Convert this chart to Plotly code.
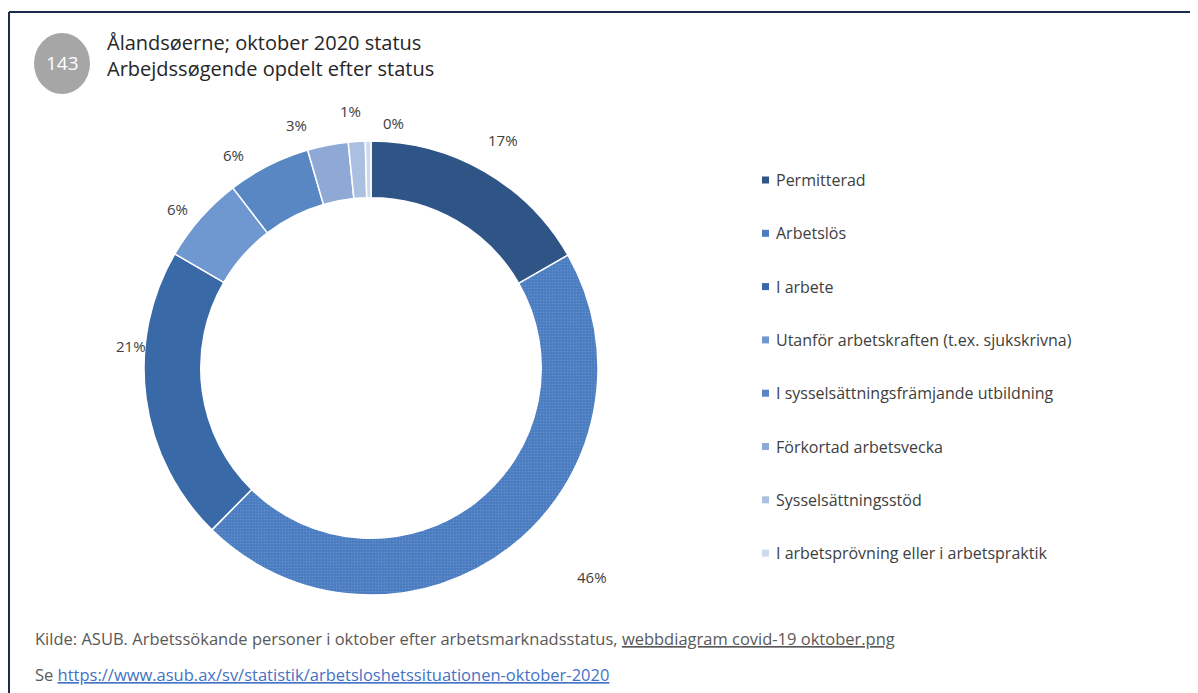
import math
import plotly.graph_objects as go

# ---- data ----
categories = [
    "Permitterad",
    "Arbetslös",
    "I arbete",
    "Utanför arbetskraften (t.ex. sjukskrivna)",
    "I sysselsättningsfrämjande utbildning",
    "Förkortad arbetsvecka",
    "Sysselsättningsstöd",
    "I arbetsprövning eller i arbetspraktik",
]
shares = [16.7, 45.6, 21.0, 6.2, 5.9, 2.9, 1.2, 0.4]
colors = ["#2f5587", "#4a7cc1", "#3a69a7", "#6e98cf", "#5987c4", "#8ea9d6", "#abbfe1", "#cdd9ed"]
patterns = ["", ".", "", "", "", "", "", ""]

title_lines = ["Ålandsøerne; oktober 2020 status", "Arbejdssøgende opdelt efter status"]
badge = "143"
source_line = ("Kilde: ASUB. Arbetssökande personer i oktober efter arbetsmarknadsstatus, "
               "<span style='text-decoration:underline'>webbdiagram covid-19 oktober.png</span>")
url = "https://www.asub.ax/sv/statistik/arbetsloshetssituationen-oktober-2020"

# ---- layout / style (not data) ----
# the page body has an 8px margin; the figure is sized to fill the rest of the window
OX, OY = 8, 8
W, H = 1190, 685
TXT = "#404040"
FONT = "Open Sans"
CX, CY, R = 371, 368, 227          # ring centre / outer radius in window pixels
LABEL_R = 258                      # base label distance from centre
label_nudge_deg = [0, -9, 13, -2, -6, -6, -1, 6]    # manual label placement tweaks
label_extra_r = [6, 46, -17, -8, -5, -4, 0, -12]


def px(x):
    return (x - OX) / W


def py(y):
    return 1 - (y - OY) / H


fig = go.Figure()
fig.add_trace(go.Pie(
    labels=categories,
    values=shares,
    sort=False,
    direction="clockwise",
    rotation=0,
    hole=0.75,
    marker=dict(colors=colors, line=dict(color="white", width=1.5),
                pattern=dict(shape=patterns, bgcolor=colors, fgcolor="#6690cc", size=3, solidity=0.25)),
    textinfo="none",
    showlegend=False,
    hoverinfo="label+percent",
    domain=dict(x=[px(CX - R), px(CX + R)], y=[py(CY + R), py(CY - R)]),
))

shapes = []
annotations = []

# percentage labels placed around the ring from the cumulative shares
total = sum(shares)
cum = 0.0
for v, nudge, dr in zip(shares, label_nudge_deg, label_extra_r):
    mid = (cum + v / 2) / total * 360 + nudge
    cum += v
    a = math.radians(mid)
    lx = CX + (LABEL_R + dr) * math.sin(a)
    ly = CY - (LABEL_R + dr) * math.cos(a)
    annotations.append(dict(text=f"{round(v / total * 100):.0f}%", x=px(lx), y=py(ly),
                            xref="paper", yref="paper", showarrow=False,
                            font=dict(family=FONT, size=15, color=TXT),
                            xanchor="center", yanchor="middle"))

# frame
shapes.append(dict(type="line", xref="paper", yref="paper", x0=px(9), x1=1, y0=py(12), y1=py(12),
                   line=dict(color="#1f2b4d", width=2)))
shapes.append(dict(type="line", xref="paper", yref="paper", x0=px(9), x1=px(9), y0=py(12), y1=0,
                   line=dict(color="#1f2b4d", width=2)))

# badge
shapes.append(dict(type="circle", xref="paper", yref="paper", x0=px(34), x1=px(90), y0=py(94), y1=py(33),
                   fillcolor="#a6a6a6", line=dict(width=0)))
annotations.append(dict(text=badge, x=px(62), y=py(63), xref="paper", yref="paper", showarrow=False,
                        font=dict(family=FONT, size=19, color="white"), xanchor="center", yanchor="middle"))
annotations.append(dict(text="<br>".join(title_lines), x=px(105), y=py(55), xref="paper", yref="paper",
                        showarrow=False, align="left",
                        font=dict(family=FONT, size=20, color="#262626"),
                        xanchor="left", yanchor="middle"))

# legend (drawn manually for the wide spacing)
for i, (c, col) in enumerate(zip(categories, colors)):
    yc = 180 + 53.3 * i
    shapes.append(dict(type="rect", xref="paper", yref="paper", x0=px(762), x1=px(769),
                       y0=py(yc + 3.5), y1=py(yc - 3.5), fillcolor=col, line=dict(width=0)))
    annotations.append(dict(text=c, x=px(774), y=py(yc), xref="paper", yref="paper", showarrow=False,
                            font=dict(family=FONT, size=16, color=TXT), xanchor="left", yanchor="middle"))

# footer
annotations.append(dict(text=source_line, x=px(33), y=py(638), xref="paper", yref="paper", showarrow=False,
                        font=dict(family=FONT, size=16.5, color="#595959"), xanchor="left", yanchor="middle"))
annotations.append(dict(text="Se <span style='text-decoration:underline;fill:#4472c4'>" + url + "</span>",
                        x=px(33), y=py(674), xref="paper", yref="paper", showarrow=False,
                        font=dict(family=FONT, size=16.5, color="#595959"), xanchor="left", yanchor="middle"))

fig.update_layout(
    width=W, height=H,
    margin=dict(l=0, r=0, t=0, b=0),
    paper_bgcolor="white", plot_bgcolor="white",
    shapes=shapes, annotations=annotations,
)
fig.write_html("out.html")
